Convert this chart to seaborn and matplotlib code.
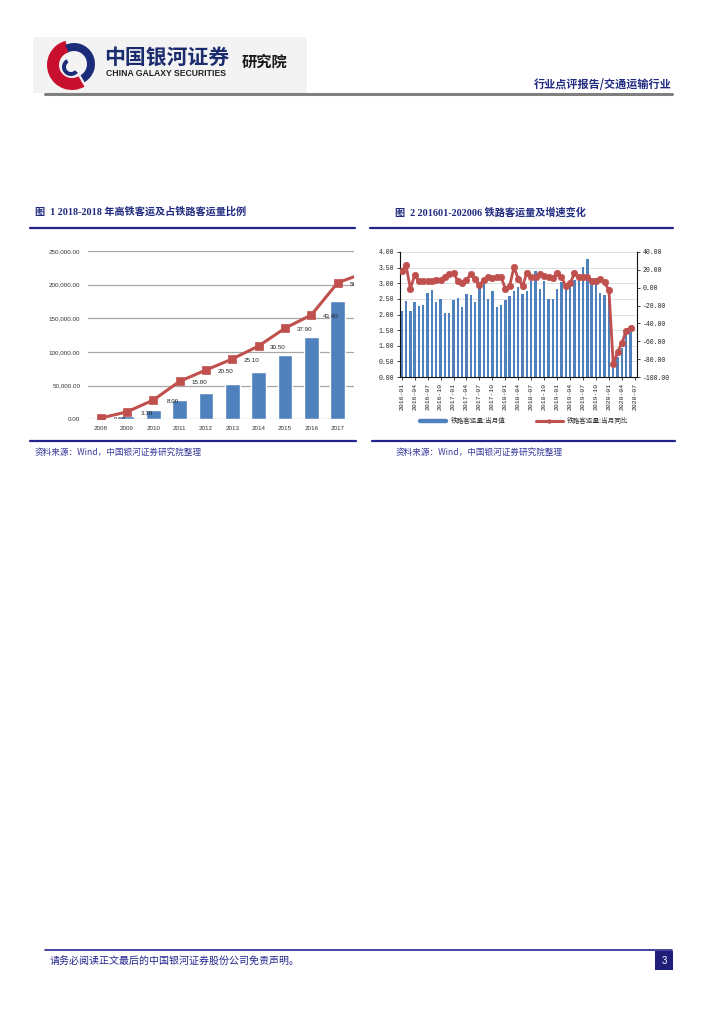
import numpy as np
import pandas as pd
import matplotlib
matplotlib.use("Agg")
import matplotlib.pyplot as plt
import seaborn as sns
from matplotlib.lines import Line2D
from matplotlib.patches import Rectangle, Wedge
from matplotlib.ticker import FuncFormatter

# ---------------- data ----------------
hsr_years = ['2008', '2009', '2010', '2011', '2012', '2013', '2014', '2015', '2016', '2017']
hsr_volume = [734, 4651, 13323, 28552, 38815, 52962, 70378, 96139, 122128, 175216]
share_years = hsr_years + ['2018']
hsr_share = [0.50, 3.10, 8.00, 15.80, 20.50, 25.10, 30.50, 37.90, 43.40, 56.80, 60.80]

month_labels = [f"{y}-{m:02d}" for y in range(2016, 2021) for m in range(1, 13)][:55]
rail_volume = [2.12, 2.42, 2.12, 2.40, 2.27, 2.30, 2.68, 2.77, 2.41, 2.50, 2.04, 2.06,
               2.47, 2.52, 2.25, 2.66, 2.62, 2.41, 2.93, 3.02, 2.50, 2.75, 2.25, 2.29,
               2.47, 2.60, 2.74, 2.87, 2.66, 2.76, 3.06, 3.38, 2.83, 3.06, 2.50, 2.50,
               2.83, 3.05, 2.86, 3.03, 3.11, 3.26, 3.53, 3.78, 3.16, 3.16, 2.68, 2.62,
               2.68, 0.28, 0.65, 0.92, 1.34, 1.43]
rail_yoy = [19, 25, -1, 14, 7, 8, 7, 8, 9, 9, 12, 15,
            17, 7, 5, 9, 15, 10, 3, 9, 12, 11, 12, 12,
            -1, 2, 23, 10, 2, 17, 12, 12, 15, 13, 12, 11,
            17, 12, 2, 5, 16, 12, 12, 12, 7, 7, 10, 6,
            -3, -86, -72, -62, -48, -45]
legend_labels = ['铁路客运量:当月值', '铁路客运量:当月同比']

BLUE = '#4F81BD'
RED = '#C0504D'
NAVY = '#1F2A80'

sns.set_theme(style='white')
plt.rcParams['font.family'] = ['Liberation Sans', 'Noto Sans CJK SC']
CJK = ['Noto Sans CJK SC']
SERIF_CJK = ['Liberation Serif', 'Noto Sans CJK SC']
MONO = ['Liberation Mono', 'Noto Sans CJK SC']

W, H = 724, 1024
fig = plt.figure(figsize=(7.24, 10.24), dpi=100)


def fx(x):
    return x / W


def fy(y):
    return 1 - y / H


def hline(x0, x1, y, color, lw):
    fig.add_artist(Line2D([fx(x0), fx(x1)], [fy(y), fy(y)], color=color, lw=lw,
                          transform=fig.transFigure))

# ---------------- header ----------------
fig.add_artist(Rectangle((fx(33), fy(93)), fx(307) - fx(33), fy(37) - fy(93),
                         transform=fig.transFigure, facecolor='#f3f3f3', edgecolor='none',
                         zorder=-5))
# logo in its own pixel-scaled axes
lax = fig.add_axes([fx(44), fy(92), fx(100) - fx(44), fy(38) - fy(92)])
lax.set_zorder(3)
lax.set_xlim(0, 56)
lax.set_ylim(0, 54)
lax.axis('off')
lax.add_patch(Wedge((28, 27), 25, 105, 300, width=12, facecolor='#C8102E', edgecolor='none'))
lax.add_patch(Wedge((30, 28), 21, -60, 115, width=8, facecolor='#1B2C78', edgecolor='none'))
lax.add_patch(Wedge((27, 25), 9, 120, 320, width=4, facecolor='#1B2C78', edgecolor='none'))

fig.text(fx(104), fy(57), '中国银河证券', family=CJK, fontsize=15, fontweight='bold',
         color='#1B2C6E', va='center', ha='left')
fig.text(fx(106), fy(74), 'CHINA GALAXY SECURITIES', fontsize=6.2, fontweight='bold',
         color='#222222', va='center', ha='left')
fig.text(fx(242), fy(62), '研究院', family=CJK, fontsize=11, fontweight='bold',
         color='#1a1a1a', va='center', ha='left')
fig.text(fx(672), fy(84), '行业点评报告/交通运输行业', family=CJK, fontsize=8, fontweight='bold',
         color=NAVY, va='center', ha='right')
hline(45, 672, 93.5, '#808080', 2.2)

# ---------------- section titles ----------------
fig.text(fx(35), fy(212), '图  1 2018-2018 年高铁客运及占铁路客运量比例', family=SERIF_CJK,
         fontsize=7.3, fontweight='bold', color=NAVY, va='center', ha='left')
fig.text(fx(395), fy(212), '图  2 201601-202006 铁路客运量及增速变化', family=SERIF_CJK,
         fontsize=7.3, fontweight='bold', color=NAVY, va='center', ha='left')
hline(30, 355, 228, '#23238E', 1.6)
hline(370, 673, 228, '#23238E', 1.6)

# ---------------- chart 1 ----------------
ax1 = fig.add_axes([fx(88), fy(419.3), fx(354) - fx(88), fy(251) - fy(419.3)])
sns.barplot(x=hsr_years, y=hsr_volume, color=BLUE, saturation=1, width=0.55, ax=ax1, zorder=2)
ax1.set_ylim(0, 250000)
ax1.set_yticks(range(0, 250001, 50000))
ax1.yaxis.set_major_formatter(FuncFormatter(lambda v, p: f"{v:,.2f}"))
ax1.yaxis.grid(True, color='#a6a6a6', lw=0.9)
ax1.set_axisbelow(True)
for s in ax1.spines.values():
    s.set_visible(False)
ax1.tick_params(axis='y', length=0, labelsize=4.5, pad=5.5, colors='#333333')
ax1.tick_params(axis='x', length=0, labelsize=4.5, pad=5, colors='#333333')
ax1.set_xlabel('')
ax1.set_ylabel('')

ax1b = ax1.twinx()
sns.lineplot(x=np.arange(len(share_years)), y=hsr_share, ax=ax1b, color=RED, lw=2.2,
             marker='s', markersize=5.8, markeredgecolor=RED, markeredgewidth=0.5, zorder=3)
ax1b.set_ylim(0, 70)
ax1b.set_yticks([])
ax1b.set_ylabel('')
for s in ax1b.spines.values():
    s.set_visible(False)
for i, v in enumerate(hsr_share):
    ax1b.annotate(f"{v:.2f}", (i, v), xytext=(14, -1), textcoords='offset points',
                  ha='center', va='center', fontsize=4.5, color='#222222', clip_on=True)
ax1.set_xlim(-0.48, 9.62)
ax1b.set_xlim(-0.48, 9.62)

# ---------------- chart 2 ----------------
ax2 = fig.add_axes([fx(400), fy(377), fx(637) - fx(400), fy(252) - fy(377)])
sns.barplot(x=month_labels[:len(rail_volume)], y=rail_volume, order=month_labels, color=BLUE,
            saturation=1, width=0.55, linewidth=0, ax=ax2, zorder=2)
ax2.set_ylim(0, 4)
ax2.set_yticks(np.arange(0, 4.01, 0.5))
ax2.yaxis.set_major_formatter(FuncFormatter(lambda v, p: f"{v:.2f}"))
ax2.yaxis.grid(True, color='#d9d9d9', lw=0.6)
ax2.set_axisbelow(True)
ax2.spines['top'].set_visible(False)
ax2.spines['right'].set_visible(False)
ax2.spines['left'].set_color('#111111')
ax2.spines['left'].set_linewidth(0.8)
ax2.spines['bottom'].set_color('#111111')
ax2.spines['bottom'].set_linewidth(0.8)
xt = list(range(0, 55, 3))
ax2.set_xticks(xt)
ax2.set_xticklabels([month_labels[i] for i in xt], rotation=90, family=MONO, fontsize=4.6)
ax2.tick_params(axis='x', length=2, width=0.6, pad=2.5, colors='#222222', bottom=True)
ax2.tick_params(axis='y', length=2, width=0.6, pad=2, labelsize=4.7, colors='#222222', left=True)
for lab in ax2.get_yticklabels():
    lab.set_family(MONO)
ax2.set_xlabel('')
ax2.set_ylabel('')

ax2b = ax2.twinx()
sns.lineplot(x=np.arange(len(rail_yoy)), y=rail_yoy, ax=ax2b, color=RED, lw=2.0,
             marker='o', markersize=4.6, markeredgecolor=RED, markeredgewidth=0.5, zorder=3)
ax2b.set_ylim(-100, 40)
ax2b.set_yticks(range(-100, 41, 20))
ax2b.yaxis.set_major_formatter(FuncFormatter(lambda v, p: f"{v:.2f}"))
ax2b.tick_params(axis='y', length=2, width=0.6, pad=2, labelsize=4.7, colors='#222222', right=True)
for lab in ax2b.get_yticklabels():
    lab.set_family(MONO)
for k in ['top', 'left', 'bottom']:
    ax2b.spines[k].set_visible(False)
ax2b.spines['right'].set_color('#111111')
ax2b.spines['right'].set_linewidth(0.8)
ax2b.set_ylabel('')
ax2.set_xlim(-0.4, 54.5)
ax2b.set_xlim(-0.4, 54.5)

handles = [Line2D([0], [0], color=BLUE, lw=3.2),
           Line2D([0], [0], color=RED, lw=2.2, marker='o', markersize=2.2, markeredgecolor=RED)]
fig.legend(handles, legend_labels, loc='center', bbox_to_anchor=(fx(524), fy(421)), ncol=2,
           frameon=False, prop={'family': CJK, 'size': 4.8}, handlelength=4.0,
           columnspacing=4.6, handletextpad=0.6, labelcolor='#333333')

# ---------------- sources ----------------
hline(30, 356, 440.5, '#23238E', 1.6)
hline(372, 675, 440.5, '#23238E', 1.6)
fig.text(fx(35), fy(452), '资料来源：Wind，中国银河证券研究院整理', family=CJK, fontsize=6.2,
         color='#3A3A9E', va='center', ha='left', style='italic')
fig.text(fx(396), fy(452), '资料来源：Wind，中国银河证券研究院整理', family=CJK, fontsize=6.2,
         color='#3A3A9E', va='center', ha='left', style='italic')

# ---------------- footer ----------------
hline(45, 672, 950, '#23238E', 1.2)
fig.text(fx(50), fy(961), '请务必阅读正文最后的中国银河证券股份公司免责声明。', family=CJK,
         fontsize=7.2, color='#23238E', va='center', ha='left')
fig.add_artist(Rectangle((fx(655), fy(970)), fx(673) - fx(655), fy(951) - fy(970),
                         transform=fig.transFigure, facecolor='#1F1F7A', edgecolor='none'))
fig.text(fx(664), fy(960.5), '3', fontsize=7, color='white', va='center', ha='center')

fig.savefig('out.png', dpi=100)
